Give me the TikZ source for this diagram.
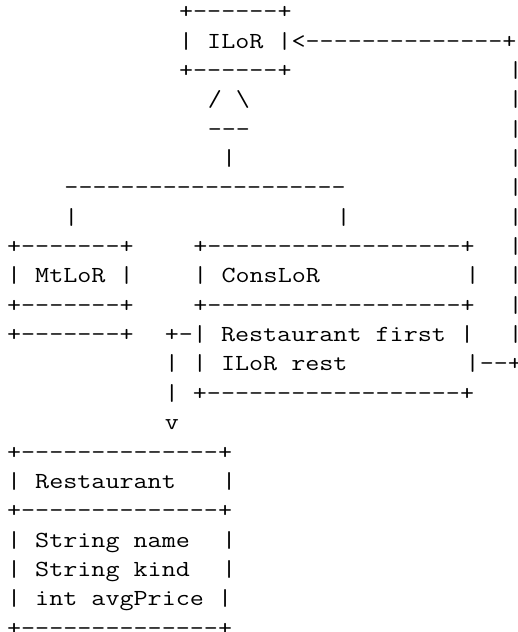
\documentclass[tikz,border=0pt]{standalone}
\usepackage{graphicx}
\tikzset{
  ascii/.style={anchor=base west, inner sep=0pt, outer sep=0pt,
    font=\fontsize{23}{29}\selectfont\ttfamily},
}
\newcommand{\wide}[1]{\scalebox{1.187}[1]{#1}}
\begin{document}
\begin{tikzpicture}[x=14.33pt, y=-29.35pt]
  \useasboundingbox (-7.13pt,18.75pt) rectangle (509.87pt,-613.25pt);
  \node[ascii] (ilorTop) at (12,0) {\wide{+------+}};
  \node[ascii] (ilor) at (12,1) {\wide{| ILoR |<--------------+}};
  \node[ascii] (ilorBot) at (12,2) {\wide{+------+}};
  \foreach \r in {2,...,11}
    \node[ascii] (back\r) at (35,\r) {\wide{|}};
  \node[ascii] (triTop) at (14,3) {\wide{/ \textbackslash}};
  \node[ascii] (triBase) at (14,4) {\wide{---}};
  \node[ascii] (stem) at (15,5) {\wide{|}};
  \node[ascii] (bar) at (4,6) {\wide{--------------------}};
  \node[ascii] (legMt) at (4,7) {\wide{|}};
  \node[ascii] (legCons) at (23,7) {\wide{|}};
  \node[ascii] (mtTop) at (0,8) {\wide{+-------+}};
  \node[ascii] (mt) at (0,9) {\wide{| MtLoR |}};
  \node[ascii] (mtMid) at (0,10) {\wide{+-------+}};
  \node[ascii] (mtBot) at (0,11) {\wide{+-------+}};
  \node[ascii] (consTop) at (13,8) {\wide{+------------------+}};
  \node[ascii] (cons) at (13,9) {\wide{| ConsLoR}};
  \node[ascii] (consR) at (32,9) {\wide{|}};
  \node[ascii] (consMid) at (13,10) {\wide{+------------------+}};
  \node[ascii] (first) at (11,11) {\wide{+-| Restaurant first |}};
  \node[ascii] (rest) at (11,12) {\wide{| | ILoR rest}};
  \node[ascii] (restR) at (32,12) {\wide{|--+}};
  \node[ascii] (consBot) at (11,13) {\wide{| +------------------+}};
  \node[ascii] (tip) at (11,14) {\wide{v}};
  \node[ascii] (restTop) at (0,15) {\wide{+--------------+}};
  \node[ascii] (restaurant) at (0,16) {\wide{| Restaurant}};
  \node[ascii] (restaurantR) at (15,16) {\wide{|}};
  \node[ascii] (restMid) at (0,17) {\wide{+--------------+}};
  \node[ascii] (name) at (0,18) {\wide{| String name}};
  \node[ascii] (nameR) at (15,18) {\wide{|}};
  \node[ascii] (kind) at (0,19) {\wide{| String kind}};
  \node[ascii] (kindR) at (15,19) {\wide{|}};
  \node[ascii] (price) at (0,20) {\wide{| int avgPrice |}};
  \node[ascii] (restBot) at (0,21) {\wide{+--------------+}};
\end{tikzpicture}
\end{document}
